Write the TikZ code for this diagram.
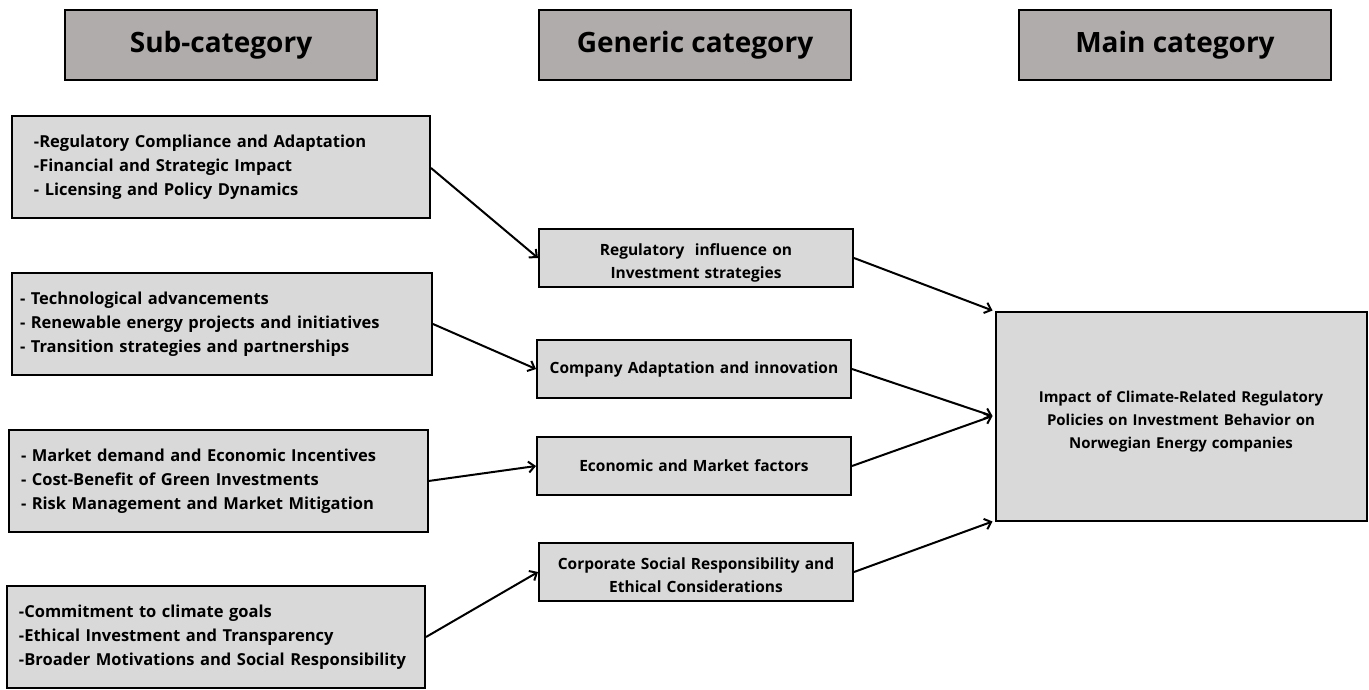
\documentclass[tikz,border=0pt]{standalone}
\usepackage{fontspec}
\setmainfont{Open Sans}
\usepackage{tikz}
\usetikzlibrary{arrows.meta}

\definecolor{headgray}{HTML}{B0ACAB}
\definecolor{boxgray}{HTML}{D9D9D9}
\newcommand{\lowerby}[1]{\rule{0pt}{#1}}

\begin{document}
\begin{tikzpicture}[x = 1pt, y = -1pt,
            head/.style = {draw, line width = 2pt, fill = headgray, minimum width = 312pt, minimum height = 70pt, font = \fontsize{28}{32}\selectfont\bfseries},
            sub/.style = {draw, line width = 2pt, fill = boxgray, minimum width = 418pt, minimum height = 102pt, text width = 394pt, inner xsep = 12pt, align = left, font = \fontsize{16.5}{24}\selectfont\bfseries},
            gen/.style = {draw, line width = 2pt, fill = boxgray, minimum width = 314pt, minimum height = 58pt, text width = 300pt, align = center, font = \fontsize{15.5}{23}\selectfont\bfseries},
            link/.style = {line width = 2pt, -{Straight Barb[length = 6pt, width = 11pt, line width = 2pt]}}]

            \useasboundingbox (0,0) rectangle (1369,689);

            \node[head] (hsub) at (221,45) {Sub-category};
            \node[head] (hgen) at (695,45) {Generic category};
            \node[head] (hmain) at (1175,45) {Main category};

            \node[sub, inner xsep = 22pt, text width = 374pt] (s1) at (221,167)
            {-Regulatory Compliance and Adaptation\\-Financial and Strategic Impact\\- Licensing and Policy Dynamics};
            \node[sub, minimum width = 420pt, inner xsep = 8pt, text width = 404pt] (s2) at (222,324)
            {- Technological advancements\\- Renewable energy projects and initiatives\\- Transition strategies and partnerships};
            \node[sub, minimum width = 419pt] (s3) at (218,481)
            {- Market demand and Economic Incentives\\- Cost-Benefit of Green Investments\\- Risk Management and Market Mitigation};
            \node[sub] (s4) at (216,637)
            {-Commitment to climate goals\\-Ethical Investment and Transparency\\-Broader Motivations and Social Responsibility};

            \node[gen] (g1) at (696,258) {\lowerby{21pt}Regulatory\ \ influence on\\Investment strategies};
            \node[gen] (g2) at (694,369) {Company Adaptation and innovation};
            \node[gen] (g3) at (694,466) {Economic and Market factors};
            \node[gen] (g4) at (696,572) {\lowerby{19pt}Corporate Social Responsibility and\\Ethical Considerations};

            \node[gen, minimum width = 371pt, minimum height = 209pt, text width = 340pt, font = \fontsize{15}{23}\selectfont\bfseries] (m) at (1181,416)
            {\lowerby{22pt}Impact of Climate-Related Regulatory\\Policies on Investment Behavior on\\Norwegian Energy companies};

            \draw[link] (s1.east) ++(0,1) -- (g1.west);
            \draw[link] (s2.east) -- (g2.west);
            \draw[link] (s3.east) -- (g3.west);
            \draw[link] (s4.east) -- (g4.west);

            \draw[link] (g1.east) -- ([xshift = -2pt]m.north west);
            \draw[link] (g2.east) -- ([xshift = -2pt]m.west);
            \draw[link] (g3.east) -- ([xshift = -2pt]m.west);
            \draw[link] (g4.east) -- ([xshift = -2pt]m.south west);
        \end{tikzpicture}
\end{document}
